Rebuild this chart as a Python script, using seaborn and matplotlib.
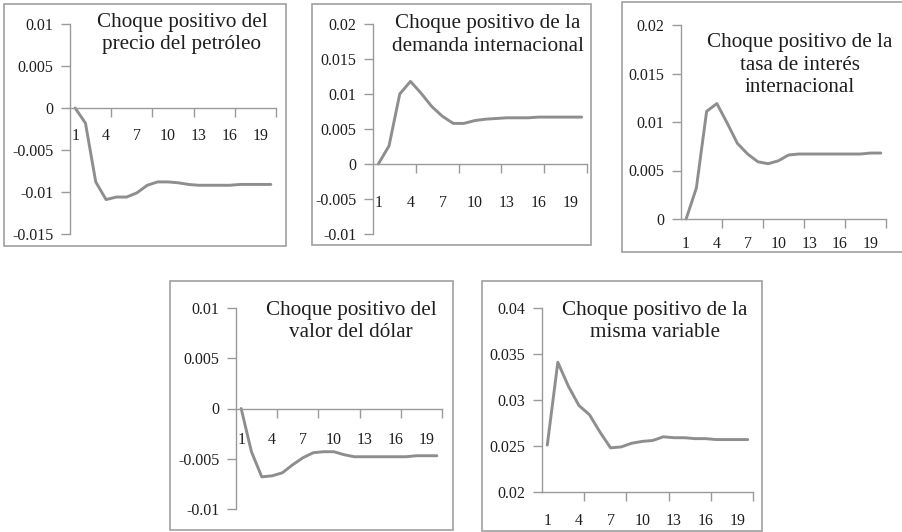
import matplotlib
matplotlib.use("Agg")
import matplotlib.pyplot as plt
import seaborn as sns
import pandas as pd
from matplotlib.patches import Rectangle
from matplotlib.ticker import FixedLocator, FixedFormatter, NullFormatter

# ---------------- data ----------------
periods = list(range(1, 21))
x_tick_labels = ["1", "4", "7", "10", "13", "16", "19"]
x_tick_values = [1, 4, 7, 10, 13, 16, 19]

petroleo = [0.0, -0.0018, -0.0088, -0.0109, -0.0106, -0.0106, -0.0101, -0.0092,
            -0.0088, -0.0088, -0.0089, -0.0091, -0.0092, -0.0092, -0.0092,
            -0.0092, -0.0091, -0.0091, -0.0091, -0.0091]
demanda = [0.0, 0.0026, 0.0100, 0.0118, 0.0101, 0.0082, 0.0068, 0.0058,
           0.0058, 0.0062, 0.0064, 0.0065, 0.0066, 0.0066, 0.0066, 0.0067,
           0.0067, 0.0067, 0.0067, 0.0067]
tasa = [0.0, 0.0032, 0.0111, 0.0119, 0.0099, 0.0078, 0.0067, 0.0059,
        0.0057, 0.0060, 0.0066, 0.0067, 0.0067, 0.0067, 0.0067, 0.0067,
        0.0067, 0.0067, 0.0068, 0.0068]
dolar = [0.0, -0.0043, -0.0068, -0.0067, -0.0064, -0.0056, -0.0049, -0.0044,
         -0.0043, -0.0043, -0.0046, -0.0048, -0.0048, -0.0048, -0.0048,
         -0.0048, -0.0048, -0.0047, -0.0047, -0.0047]
misma = [0.0251, 0.0341, 0.0315, 0.0294, 0.0284, 0.0265, 0.0248, 0.0249,
         0.0253, 0.0255, 0.0256, 0.0260, 0.0259, 0.0259, 0.0258, 0.0258,
         0.0257, 0.0257, 0.0257, 0.0257]

titles = [
    "Choque positivo del\nprecio del petróleo",
    "Choque positivo de la\ndemanda internacional",
    "Choque positivo de la\ntasa de interés\ninternacional",
    "Choque positivo del\nvalor del dólar",
    "Choque positivo de la\nmisma variable",
]
yticks_1 = [-0.015, -0.01, -0.005, 0, 0.005, 0.01]
ylabels_1 = ["-0.015", "-0.01", "-0.005", "0", "0.005", "0.01"]
yticks_2 = [-0.01, -0.005, 0, 0.005, 0.01, 0.015, 0.02]
ylabels_2 = ["-0.01", "-0.005", "0", "0.005", "0.01", "0.015", "0.02"]
yticks_3 = [0, 0.005, 0.01, 0.015, 0.02]
ylabels_3 = ["0", "0.005", "0.01", "0.015", "0.02"]
yticks_4 = [-0.01, -0.005, 0, 0.005, 0.01]
ylabels_4 = ["-0.01", "-0.005", "0", "0.005", "0.01"]
yticks_5 = [0.02, 0.025, 0.03, 0.035, 0.04]
ylabels_5 = ["0.02", "0.025", "0.03", "0.035", "0.04"]

# ---------------- style ----------------
sns.set_style("ticks")
plt.rcParams["font.family"] = ["Liberation Serif", "DejaVu Serif"]
plt.rcParams["axes.unicode_minus"] = False

W, H = 903, 532
LINE = "#8e8e8e"
AXC = "#9a9a9a"
BOX = "#a0a0a0"
TXT = "#1e1e1e"
TICK_FS = 11.5
TITLE_FS = 15.2

fig = plt.figure(figsize=(W / 100, H / 100), dpi=100)


def frect(l, t, r, b):
    return [l / W, 1 - b / H, (r - l) / W, (b - t) / H]


panels = [
    dict(data=petroleo, box=(4, 4, 286, 246), ax=(70, 24, 276, 234),
         ylim=(-0.015, 0.01), yt=yticks_1, yl=ylabels_1, cross=0.0,
         title=titles[0], tx=182, ty=33.5, pad=14.5),
    dict(data=demanda, box=(312, 4, 591, 245), ax=(373, 24, 587, 234),
         ylim=(-0.01, 0.02), yt=yticks_2, yl=ylabels_2, cross=0.0,
         title=titles[1], tx=488, ty=35, pad=22.5),
    dict(data=tasa, box=(622, 2, 903, 252), ax=(681, 25, 886, 219),
         ylim=(0.0, 0.02), yt=yticks_3, yl=ylabels_3, cross=0.0,
         title=titles[2], tx=800, ty=65, pad=12.5),
    dict(data=dolar, box=(170, 281, 453, 530), ax=(236, 308, 442, 509),
         ylim=(-0.01, 0.01), yt=yticks_4, yl=ylabels_4, cross=0.0,
         title=titles[3], tx=351, ty=321.5, pad=17),
    dict(data=misma, box=(482, 281, 762, 531), ax=(542, 308, 753, 492),
         ylim=(0.02, 0.04), yt=yticks_5, yl=ylabels_5, cross=0.02,
         title=titles[4], tx=655, ty=321.5, pad=15),
]

for p in panels:
    l, t, r, b = p["box"]
    fig.add_artist(Rectangle((l / W, 1 - b / H), (r - l) / W, (b - t) / H,
                             transform=fig.transFigure, fill=False,
                             edgecolor=BOX, lw=1.2))
    ax = fig.add_axes(frect(*p["ax"]))
    ax.patch.set_alpha(0)
    df = pd.DataFrame({"periodo": periods, "valor": p["data"]})
    sns.lineplot(data=df, x="periodo", y="valor", ax=ax, color=LINE,
                 linewidth=2.1, clip_on=False)
    ax.set_xlim(0.5, 20.5)
    ax.set_ylim(*p["ylim"])
    ax.set_xlabel("")
    ax.set_ylabel("")
    for s in ["top", "right"]:
        ax.spines[s].set_visible(False)
    ax.spines["bottom"].set_position(("data", p["cross"]))
    for s in ["left", "bottom"]:
        ax.spines[s].set_color(AXC)
        ax.spines[s].set_linewidth(1.0)
    ax.xaxis.set_major_locator(FixedLocator(x_tick_values))
    ax.xaxis.set_major_formatter(FixedFormatter(x_tick_labels))
    ax.xaxis.set_minor_locator(FixedLocator([4.5, 8.5, 12.5, 16.5, 20.5]))
    ax.xaxis.set_minor_formatter(NullFormatter())
    ax.tick_params(axis="x", which="major", length=0, pad=p["pad"],
                   labelsize=TICK_FS, labelcolor=TXT)
    ax.tick_params(axis="x", which="minor", length=6.5, width=1.0,
                   color=AXC, direction="out")
    ax.yaxis.set_major_locator(FixedLocator(p["yt"]))
    ax.yaxis.set_major_formatter(FixedFormatter(p["yl"]))
    ax.tick_params(axis="y", which="major", length=6.5, width=1.0,
                   color=AXC, direction="out", pad=5.5, labelsize=TICK_FS,
                   labelcolor=TXT)
    ax.tick_params(axis="y", which="minor", length=0)
    fig.text(p["tx"] / W, 1 - p["ty"] / H, p["title"], ha="center",
             va="center", fontsize=TITLE_FS, color=TXT, linespacing=1.22)

fig.savefig("out.png", dpi=100)
